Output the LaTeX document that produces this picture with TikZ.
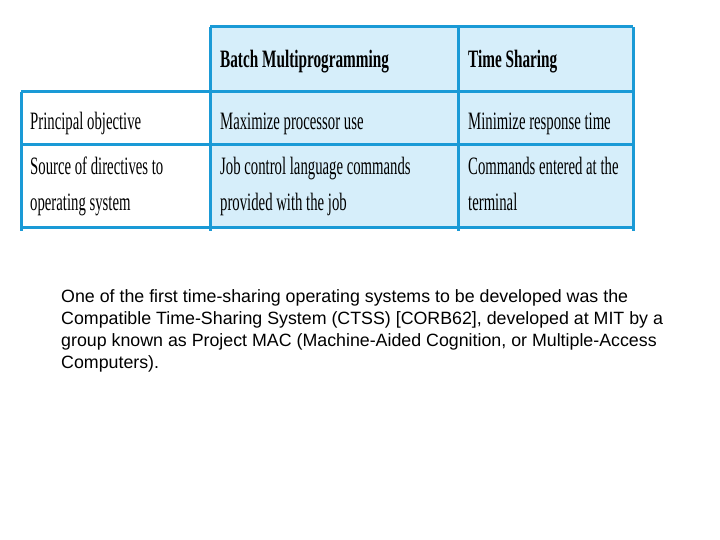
\documentclass[tikz,border=0pt]{standalone}
\usepackage{fontspec}
\setmainfont{Liberation Serif}
\newfontfamily\para{Liberation Sans}
\definecolor{lblue}{RGB}{214,238,250}
\definecolor{bline}{RGB}{26,154,214}
\begin{document}
\begin{tikzpicture}[x=1pt,y=-1pt,
  bl/.style={draw=bline, line width=3pt},
  cell/.style={anchor=base west, inner sep=0pt, font=\fontsize{25}{25}\selectfont},
  ptxt/.style={anchor=base west, inner sep=0pt, font=\para\fontsize{17.8}{20}\selectfont}]
\useasboundingbox (0,0) rectangle (720,540);
\fill[lblue] (210,27) rectangle (633,229);
\draw[bl] (210,27) -- (633,27);
\draw[bl] (21,92) -- (633,92);
\draw[bl] (21,145) -- (633,145);
\draw[bl] (21,228) -- (633,228);
\draw[bl] (21,92) -- (21,231);
\draw[bl] (210,27) -- (210,231);
\draw[bl] (458,27) -- (458,231);
\draw[bl] (633,27) -- (633,231);
\newcommand\cc[1]{\scalebox{0.59}[1]{#1}}
\node[cell] (h1) at (220,68) {\scalebox{0.61}[1]{\textbf{Batch Multiprogramming}}};
\node[cell] (h2) at (468,68) {\scalebox{0.61}[1]{\textbf{Time Sharing}}};
\node[cell] (a1) at (30,130) {\cc{Principal objective}};
\node[cell] (a2) at (220,130) {\cc{Maximize processor use}};
\node[cell] (a3) at (468,130) {\cc{Minimize response time}};
\node[cell] (b1) at (30,175) {\cc{Source of directives to}};
\node[cell] (b1b) at (30,211) {\cc{operating system}};
\node[cell] (b2) at (220,175) {\cc{Job control language commands}};
\node[cell] (b2b) at (220,211) {\cc{provided with the job}};
\node[cell] (b3) at (468,175) {\cc{Commands entered at the}};
\node[cell] (b3b) at (468,211) {\cc{terminal}};
\node[ptxt] (p1) at (61,302) {One of the first time-sharing operating systems to be developed was the};
\node[ptxt] (p2) at (61,324) {Compatible Time-Sharing System (CTSS) [CORB62], developed at MIT by a};
\node[ptxt] (p3) at (61,346) {group known as Project MAC (Machine-Aided Cognition, or Multiple-Access};
\node[ptxt] (p4) at (61,368) {Computers).};
\end{tikzpicture}
\end{document}
